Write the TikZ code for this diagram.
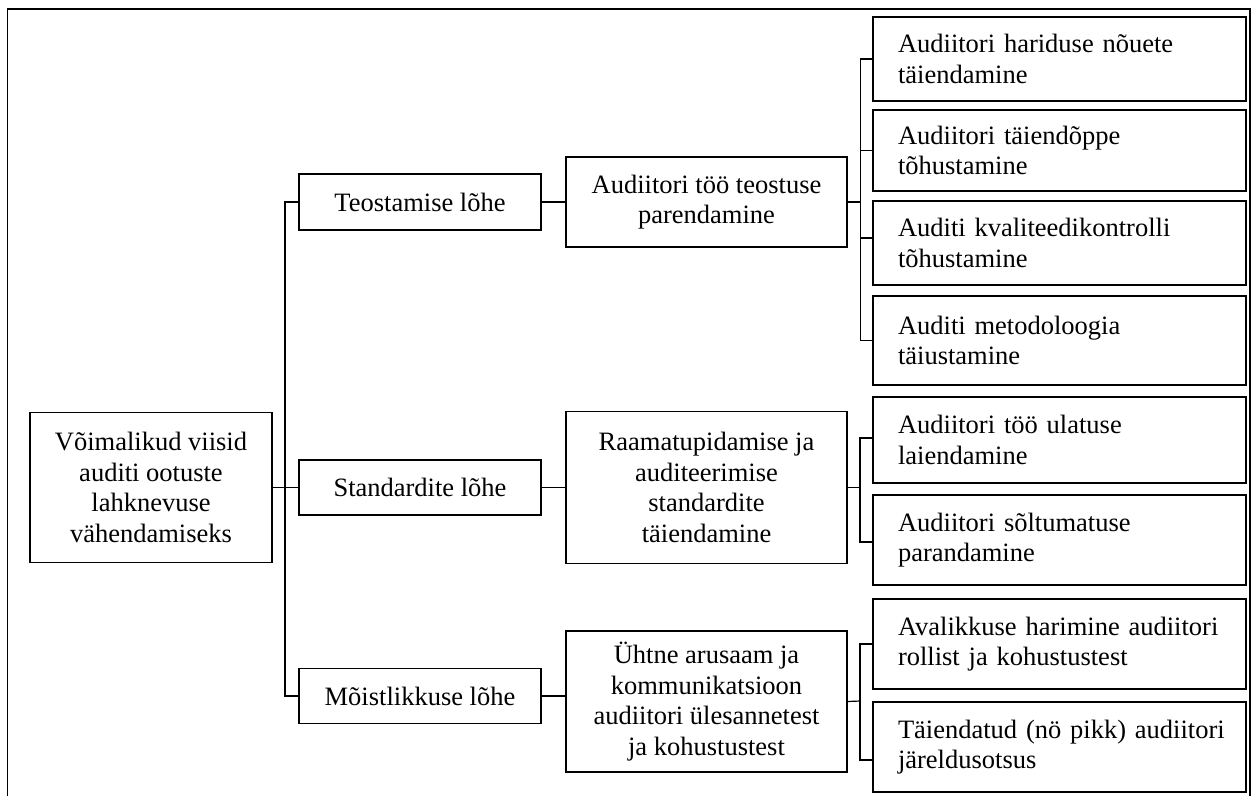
\documentclass[tikz,border=0pt]{standalone}
\usepackage{fontspec}
\setmainfont{Liberation Serif}
\begin{document}
\begin{tikzpicture}[x=1pt,y=-1pt,
  every node/.style={font=\fontsize{26.5}{30.5}\selectfont},
  box/.style={draw=black, line width=1.2pt, inner sep=0pt, align=center},
  leaf/.style={draw=black, line width=1.2pt, inner ysep=0pt, inner xsep=25pt,
    align=left, text width=323pt, minimum width=373pt},
  link/.style={draw=black, line width=1.2pt}
]
\useasboundingbox (0,0) rectangle (1256,796);

% outer frame, open at the bottom
\draw[line width=1.2pt] (7.5,796) -- (7.5,9) -- (1250,9) -- (1250,796);

% root
\node[box, minimum width=242pt, minimum height=150pt] (root) at (151,487.5)
  {Võimalikud viisid\\auditi ootuste\\lahknevuse\\vähendamiseks};

% gap types
\node[box, minimum width=242pt, minimum height=56pt] (T) at (420,202) {Teostamise lõhe};
\node[box, minimum width=242pt, minimum height=55pt] (S) at (420,487.5) {Standardite lõhe};
\node[box, minimum width=242pt, minimum height=55pt] (M) at (420,696) {Mõistlikkuse lõhe};

% measures
\node[box, minimum width=281pt, minimum height=90pt] (A) at (706.5,202)
  {Audiitori töö teostuse\\parendamine};
\node[box, minimum width=281pt, minimum height=152pt] (R) at (706.5,487.5)
  {Raamatupidamise ja\\auditeerimise\\standardite\\täiendamine};
\node[box, minimum width=281pt, minimum height=141pt] (U) at (706.5,701.5)
  {Ühtne arusaam ja\\kommunikatsioon\\audiitori ülesannetest\\ja kohustustest};

% detailed actions (each line kept whole)
\node[leaf, minimum height=84pt] (C1) at (1059.5,59)
  {\mbox{Audiitori hariduse nõuete}\\täiendamine};
\node[leaf, minimum height=81pt] (C2) at (1059.5,150.5)
  {\mbox{Audiitori täiendõppe}\\tõhustamine};
\node[leaf, minimum height=84pt] (C3) at (1059.5,243)
  {\mbox{Auditi kvaliteedikontrolli}\\tõhustamine};
\node[leaf, minimum height=89pt] (C4) at (1059.5,340.5)
  {\mbox{Auditi metodoloogia}\\täiustamine};
\node[leaf, minimum height=86pt] (C5) at (1059.5,440)
  {\mbox{Audiitori töö ulatuse}\\laiendamine};
\node[leaf, minimum height=90pt] (C6) at (1059.5,540)
  {\mbox{Audiitori sõltumatuse}\\parandamine};
\node[leaf, minimum height=90pt] (C7) at (1059.5,644)
  {\mbox{Avalikkuse harimine audiitori}\\\mbox{rollist ja kohustustest}};
\node[leaf, minimum height=90pt] (C8) at (1059.5,747)
  {\mbox{Täiendatud (nö pikk) audiitori}\\järeldusotsus};

% branching points
\coordinate (trunk) at (285,487.5);
\coordinate (bA) at (860.5,202);
\coordinate (bR) at (860,487.5);
\coordinate (bU) at (860,701);

% root to gap types
\draw[link] (root.east) -- (S.west);
\draw[link] (T.west) -| (trunk) |- (M.west);

% gap types to measures
\draw[link] (T.east) -- (A.west);
\draw[link] (S.east) -- (R.west);
\draw[link] (M.east) -- (M.east -| U.west);

% measures to actions
\draw[link] (A.east) -- (bA);
\draw[link] (C1.west) -| (bA) |- (C4.west);
\draw[link] (bA |- C2.west) -- (C2.west);
\draw[link] ([yshift=5pt]C3.west -| bA) -- ([yshift=5pt]C3.west);

\draw[link] (R.east) -- (bR);
\draw[link] ([yshift=2pt]C5.west) -| (bR) |- ([yshift=-2pt]C6.west);

\draw[link] (U.east) -- (bU);
\draw[link] (C7.west) -| (bU) |- ([yshift=-13pt]C8.west);
\end{tikzpicture}
\end{document}
